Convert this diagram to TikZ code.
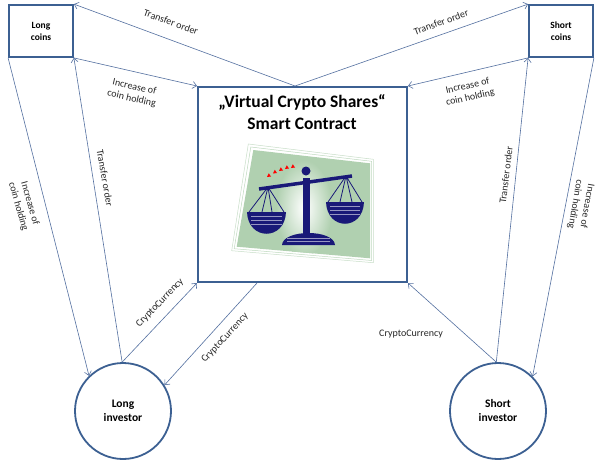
\documentclass[tikz,border=0pt]{standalone}
\usepackage{fontspec}
\setmainfont{Carlito}
\usetikzlibrary{arrows.meta,shapes.geometric}
\definecolor{bordblue}{RGB}{60,96,146}
\definecolor{linkblue}{RGB}{84,112,160}
\definecolor{navy}{RGB}{25,25,120}
\definecolor{paper}{RGB}{176,208,176}
\begin{document}
\begin{tikzpicture}[x=1pt,y=-1pt,
 box/.style={draw=bordblue, line width=1.8pt, minimum width=64pt, minimum height=52pt, align=center, font=\fontsize{9.5}{12}\selectfont\bfseries, inner sep=0},
 inv/.style={circle, draw=bordblue, line width=1.8pt, minimum size=96pt, align=center, font=\fontsize{11.5}{14}\selectfont\bfseries, inner sep=0},
 link/.style={draw=linkblue, line width=0.6pt, -{Straight Barb[length=4pt,width=7pt]}},
 lbl/.style={font=\fontsize{10}{12}\selectfont, align=center, inner sep=0, text=black!85}
]
\useasboundingbox (0,0) rectangle (605,461);
\fill[white] (0,0) rectangle (605,461);

% nodes
\node[box] (lc) at (41,31) {Long\\coins};
\node[box] (sc) at (561,31) {Short\\coins};
\node[draw=bordblue, line width=2pt, minimum width=209pt, minimum height=195pt, inner sep=0] (sm) at (302.5,184.5) {};
\node[align=center, font=\fontsize{17.5}{22}\selectfont\bfseries, inner sep=0] (title) at (302,112) {„Virtual Crypto Shares“\\Smart Contract};
\node[inv] (li) at (123,411) {Long\\investor};
\node[inv] (si) at (498,411) {Short\\investor};

% clipart
\draw[paper!70, line width=0.5pt, fill=white] (248.3,144) -- (373.3,159.3) -- (373.3,262.7) -- (231.7,250.7) -- cycle;
\draw[paper!80, line width=0.5pt] (250.8,147) -- (371.6,161.3) -- (371.6,260.5) -- (234.2,248.7) -- cycle;
\fill[paper] (253.3,150) -- (370,163.3) -- (370,258.3) -- (236.7,246.7) -- cycle;
\begin{scope}
\clip (253.3,150) -- (370,163.3) -- (370,258.3) -- (236.7,246.7) -- cycle;
\shade[inner color=white, outer color=paper] (304,208) ellipse [x radius=28, y radius=48];
\end{scope}
% red marks
\foreach \px/\py in {267/177, 273/173.5, 279/171, 285/169, 291/168}
  \fill[red] (\px,\py) -- ++(4,-0.5) -- ++(-2.2,-3.2) -- cycle;
% beam and post
\draw[navy, line width=3.5pt] (259,189) -- (352,176);
\fill[navy] (306,171) circle (4.5);
\fill[navy] (302.5,178) rectangle (310,238);
\fill[navy] (282,245) .. controls (283,229) and (334,229) .. (335,245) -- cycle;
% left pan
\draw[navy, line width=0.8pt] (268,187) -- (249,212) (268,187) -- (262,212) (268,187) -- (284,212) (268,187) -- (272,212);
\fill[navy] (247,212) .. controls (248,241) and (285,241) .. (286,212) -- cycle;
% right pan
\draw[navy, line width=0.8pt] (346,176) -- (328,202) (346,176) -- (340,202) (346,176) -- (362,202) (346,176) -- (352,202);
\fill[navy] (326,202) .. controls (327,231) and (363,231) .. (364,202) -- cycle;
% stripes
\foreach \yy in {216,220,224}{
  \draw[white!55!navy, line width=0.4pt] (251,\yy) -- (282,\yy);
  \draw[white!55!navy, line width=0.4pt] (330,\yy-10) -- (360,\yy-10);}
\foreach \yy in {238,241}
  \draw[white!55!navy, line width=0.4pt] (287,\yy) -- (330,\yy);

% connectors
\draw[link] ([xshift=-7.5pt]sm.north) -- (lc.north east);
\draw[link] ([xshift=-7.5pt]sm.north) -- (sc.north west);
\draw[link] (lc.south east) -- (sm.north west);
\draw[link] (sc.south west) -- (sm.north east);
\draw[link] (lc.south west) -- (li.134);
\draw[link] (li.91) -- (lc.south east);
\draw[link] (li.91) -- (sm.south west);
\draw[link] ([xshift=-45.5pt]sm.south) -- (li.32);
\draw[link] (si.92) -- (sm.south east);
\draw[link] (si.92) -- (sc.south west);
\draw[link] (sc.south east) -- (si.45);

% labels
\node[lbl, rotate=-20] (t1) at (171,22) {Transfer order};
\node[lbl, rotate=20] (t2) at (441,22) {Transfer order};
\node[lbl, rotate=-13] (t3) at (133,93) {Increase of\\coin holding};
\node[lbl, rotate=13] (t4) at (469,92) {Increase of\\coin holding};
\node[lbl, rotate=-74] (t5) at (24,205) {Increase of\\coin holding};
\node[lbl, rotate=-80] (t6) at (105,178) {Transfer order};
\node[lbl, rotate=83] (t7) at (506,175) {Transfer order};
\node[lbl, rotate=-100] (t8) at (581,205) {Increase of\\coin holding};
\node[lbl, rotate=46] (t9) at (160,303) {CryptoCurrency};
\node[lbl, rotate=47] (t10) at (225,338) {CryptoCurrency};
\node[lbl] (t11) at (411,334) {CryptoCurrency};
\end{tikzpicture}
\end{document}
